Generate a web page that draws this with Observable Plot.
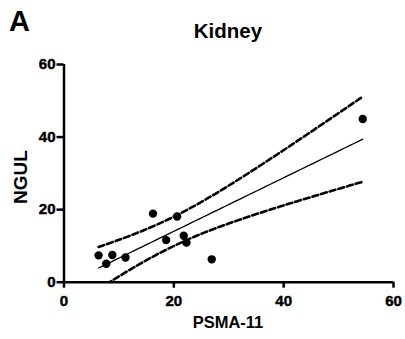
<!DOCTYPE html>
<html>
<head>
<meta charset="utf-8">
<script src="https://cdn.jsdelivr.net/npm/d3@7"></script>
<script src="https://cdn.jsdelivr.net/npm/@observablehq/plot@0.6"></script>
<style>
  html, body { margin: 0; padding: 0; background: #fff; }
  #chart svg { display: block; }
  #chart svg g[aria-label$="tick label"] text { font-weight: bold; stroke: #000; stroke-width: 0.45px; }
</style>
</head>
<body>
<div id="chart"></div>
<script>
// Data (PSMA-11 vs NGUL, kidney)
const psma = [6.3, 7.7, 8.8, 11.2, 16.2, 18.6, 20.6, 21.8, 22.3, 26.9, 54.4];
const ngul = [7.4, 5.1, 7.5, 6.8, 18.9, 11.6, 18.1, 12.8, 10.9, 6.3, 45.0];
const xTicks = [0, 20, 40, 60];
const yTicks = [0, 20, 40, 60];
const panelLabel = "A";
const title = "Kidney";
const xLabel = "PSMA-11";
const yLabel = "NGUL";

const points = psma.map((x, i) => ({x, y: ngul[i]}));

// Ordinary least squares fit with 95% confidence band of the mean
const n = points.length;
const mx = d3.mean(psma), my = d3.mean(ngul);
const sxx = d3.sum(psma, x => (x - mx) ** 2);
const sxy = d3.sum(points, p => (p.x - mx) * (p.y - my));
const slope = sxy / sxx, intercept = my - slope * mx;
const s = Math.sqrt(d3.sum(points, p => (p.y - (intercept + slope * p.x)) ** 2) / (n - 2));
const t = 2.262; // t(0.975, df = 9)
const [x0, x1] = d3.extent(psma);
const fit = d3.range(0, 61).map(i => {
  const x = x0 + (x1 - x0) * i / 60;
  const yhat = intercept + slope * x;
  const h = t * s * Math.sqrt(1 / n + (x - mx) ** 2 / sxx);
  return {x, yhat, lo: yhat - h, hi: yhat + h};
});

const font = "'Liberation Sans', Arial, sans-serif";

const chart = Plot.plot({
  width: 405,
  height: 339,
  marginLeft: 63.5,
  marginRight: 12,
  marginTop: 64,
  marginBottom: 57.3,
  style: {fontFamily: font, background: "#fff", color: "#000"},
  x: {domain: [0, 60]},
  y: {domain: [0, 60]},
  marks: [
    Plot.axisX({ticks: xTicks, tickSize: 6, tickPadding: 7, fontSize: 15, fontWeight: "bold", strokeWidth: 2.5, label: null}),
    Plot.axisY({ticks: yTicks, tickSize: 7, tickPadding: 1.5, fontSize: 15, fontWeight: "bold", strokeWidth: 2.5, label: null}),
    Plot.ruleY([0], {stroke: "#000", strokeWidth: 2.5}),
    Plot.ruleX([0], {stroke: "#000", strokeWidth: 2.5}),
    Plot.line(fit, {x: "x", y: "hi", stroke: "#000", strokeWidth: 2.6, strokeDasharray: "6,3", clip: true}),
    Plot.line(fit, {x: "x", y: "lo", stroke: "#000", strokeWidth: 2.6, strokeDasharray: "6,3", clip: true}),
    Plot.line(fit, {x: "x", y: "yhat", stroke: "#000", strokeWidth: 1.3}),
    Plot.dot(points, {x: "x", y: "y", r: 4.2, fill: "#000", stroke: "none"})
  ]
});

const svg = d3.select(chart);
svg.append("text").attr("x", 9).attr("y", 31).attr("text-anchor", "start")
  .attr("font-family", font).attr("font-size", 29).attr("font-weight", "bold")
  .text(panelLabel);
svg.append("text").attr("x", 228).attr("y", 38.3).attr("text-anchor", "middle")
  .attr("font-family", font).attr("font-size", 20.5).attr("font-weight", "bold")
  .text(title);
svg.append("text").attr("transform", "translate(26.7,177) rotate(-90)").attr("text-anchor", "middle")
  .attr("font-family", font).attr("font-size", 19).attr("font-weight", "bold")
  .text(yLabel);
svg.append("text").attr("x", 228).attr("y", 328.3).attr("text-anchor", "middle")
  .attr("font-family", font).attr("font-size", 16.5).attr("font-weight", "bold")
  .text(xLabel);

document.getElementById("chart").append(chart);
</script>
</body>
</html>
